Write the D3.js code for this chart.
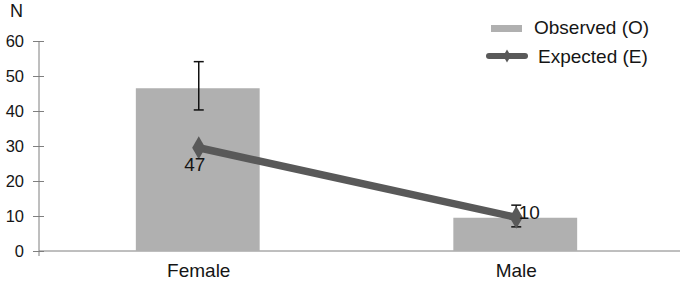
<!DOCTYPE html>
<html>
<head>
<meta charset="utf-8">
<script src="https://cdn.jsdelivr.net/npm/d3@7"></script>
<style>
  body { margin: 0; background: #fff; }
  text { font-family: "Liberation Sans", Arial, sans-serif; fill: #151515; }
</style>
</head>
<body>
<div id="chart"></div>
<script>
// values
var categories = ["Female", "Male"];
var observed = [46.5, 9.5];
var observedLabels = ["47", "10"];
var errLow = [40.3, 6.9];
var errHigh = [54.1, 13.1];
var expected = [29.5, 9.6];
var yTicks = [0, 10, 20, 30, 40, 50, 60];

var width = 680, height = 282;
var svg = d3.select("#chart")
  .append("svg")
  .attr("width", width)
  .attr("height", height);

var x = d3.scaleBand()
  .domain(categories)
  .range([39, 674])
  .paddingInner(0.61)
  .paddingOuter(0.305);

var y = d3.scaleLinear()
  .domain([0, 60])
  .range([251, 41]);

// y axis
var yAxis = svg.append("g")
  .attr("transform", "translate(39,0)")
  .call(d3.axisLeft(y).tickValues(yTicks).tickSize(6));
yAxis.select(".domain").remove();
yAxis.selectAll(".tick line")
  .attr("x1", 5).attr("x2", -6)
  .attr("stroke", "#7f7f7f");
yAxis.selectAll(".tick text")
  .attr("x", -15)
  .style("font-size", "16.5px")
  .style("font-family", "'Liberation Sans', Arial, sans-serif")
  .attr("fill", "#151515");
svg.append("line")
  .attr("x1", 39).attr("x2", 39)
  .attr("y1", y(60)).attr("y2", 256)
  .attr("stroke", "#7f7f7f");

// x axis line
svg.append("line")
  .attr("x1", 39).attr("x2", 680)
  .attr("y1", y(0)).attr("y2", y(0))
  .attr("stroke", "#7f7f7f");

svg.append("text")
  .attr("x", 10).attr("y", 17)
  .style("font-size", "18px")
  .text("N");

// bars
svg.selectAll(".bar")
  .data(categories)
  .enter()
  .append("rect")
  .attr("class", "bar")
  .attr("x", function(d) { return x(d); })
  .attr("width", x.bandwidth())
  .attr("y", function(d, i) { return y(observed[i]); })
  .attr("height", function(d, i) { return y(0) - y(observed[i]); })
  .attr("fill", "#b0b0b0");

// error bars
var eb = svg.selectAll(".err")
  .data(categories)
  .enter()
  .append("g")
  .attr("class", "err")
  .attr("stroke", "#111")
  .attr("stroke-width", 1.5);
eb.append("line")
  .attr("x1", function(d) { return x(d) + x.bandwidth() / 2 + 1; })
  .attr("x2", function(d) { return x(d) + x.bandwidth() / 2 + 1; })
  .attr("y1", function(d, i) { return y(errLow[i]); })
  .attr("y2", function(d, i) { return y(errHigh[i]); });
eb.append("line")
  .attr("x1", function(d) { return x(d) + x.bandwidth() / 2 - 4; })
  .attr("x2", function(d) { return x(d) + x.bandwidth() / 2 + 6; })
  .attr("y1", function(d, i) { return y(errHigh[i]); })
  .attr("y2", function(d, i) { return y(errHigh[i]); });
eb.append("line")
  .attr("x1", function(d) { return x(d) + x.bandwidth() / 2 - 4; })
  .attr("x2", function(d) { return x(d) + x.bandwidth() / 2 + 6; })
  .attr("y1", function(d, i) { return y(errLow[i]); })
  .attr("y2", function(d, i) { return y(errLow[i]); });

// expected line
var line = d3.line()
  .x(function(d, i) { return x(categories[i]) + x.bandwidth() / 2 + 1; })
  .y(function(d) { return y(d); });

svg.append("path")
  .datum(expected)
  .attr("d", line)
  .attr("fill", "none")
  .attr("stroke", "#595959")
  .attr("stroke-width", 7.5);

var diamond = d3.symbol().type(d3.symbolDiamond).size(150);
svg.selectAll(".pt")
  .data(expected)
  .enter()
  .append("path")
  .attr("class", "pt")
  .attr("d", diamond)
  .attr("transform", function(d, i) {
    return "translate(" + (x(categories[i]) + x.bandwidth() / 2 + 1) + "," + y(d) + ")";
  })
  .attr("fill", "#595959");

// data labels
var labelDx = [-3, 14];
var labelDy = [23, 2];
svg.selectAll(".lbl")
  .data(observedLabels)
  .enter()
  .append("text")
  .attr("class", "lbl")
  .attr("x", function(d, i) { return x(categories[i]) + x.bandwidth() / 2 + labelDx[i]; })
  .attr("y", function(d, i) { return y(expected[i]) + labelDy[i]; })
  .attr("text-anchor", "middle")
  .style("font-size", "19px")
  .text(function(d) { return d; });

// category labels
svg.selectAll(".cat")
  .data(categories)
  .enter()
  .append("text")
  .attr("class", "cat")
  .attr("x", function(d) { return x(d) + x.bandwidth() / 2 + 1; })
  .attr("y", 277)
  .attr("text-anchor", "middle")
  .style("font-size", "19px")
  .text(function(d) { return d; });

// legend
var legend = svg.append("g");
legend.append("rect")
  .attr("x", 491).attr("y", 25)
  .attr("width", 31).attr("height", 7)
  .attr("fill", "#b0b0b0");
legend.append("text")
  .attr("x", 534).attr("y", 34)
  .style("font-size", "19px")
  .text("Observed (O)");
legend.append("line")
  .attr("x1", 489).attr("x2", 525)
  .attr("y1", 56).attr("y2", 56)
  .attr("stroke", "#595959")
  .attr("stroke-width", 6)
  .attr("stroke-linecap", "round");
legend.append("path")
  .attr("d", d3.symbol().type(d3.symbolDiamond).size(50))
  .attr("transform", "translate(507,56)")
  .attr("fill", "#595959");
legend.append("text")
  .attr("x", 538).attr("y", 63)
  .style("font-size", "19px")
  .text("Expected (E)");
</script>
</body>
</html>
